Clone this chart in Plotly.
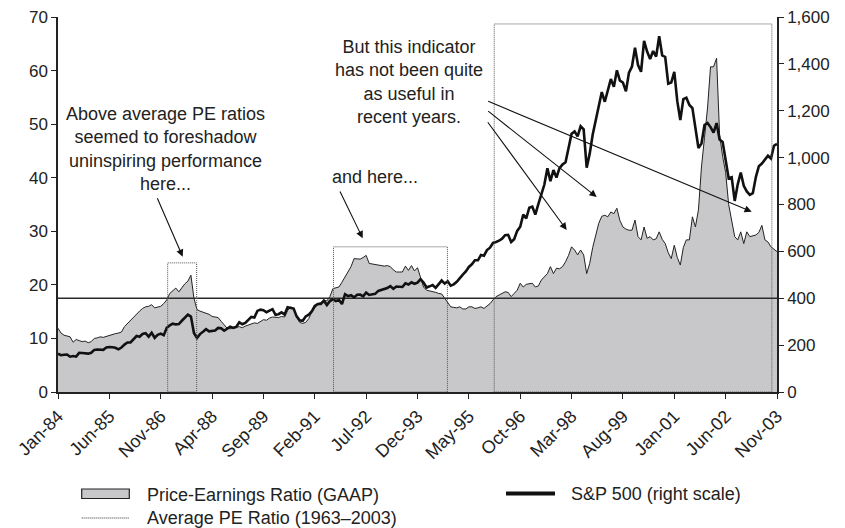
import plotly.graph_objects as go

# ---------------- data ----------------
tick_labels = ["Jan-84", "Jun-85", "Nov-86", "Apr-88", "Sep-89", "Feb-91", "Jul-92",
               "Dec-93", "May-95", "Oct-96", "Mar-98", "Aug-99", "Jan-01", "Jun-02", "Nov-03"]

# monthly S&P 500, Jan-1984 .. Nov-2003
sp500 = [
    163.4, 157.1, 159.2, 160.1, 150.6, 153.2, 150.7, 166.7, 166.1, 166.1, 163.6, 167.2,
    179.6, 181.2, 180.7, 179.8, 189.6, 191.9, 190.9, 188.6, 182.1, 189.8, 202.2, 211.3,
    211.8, 226.9, 238.9, 235.5, 247.4, 250.8, 236.1, 252.9, 231.3, 244.0, 249.2, 242.2,
    274.1, 284.2, 291.7, 288.4, 290.1, 304.0, 318.7, 329.8, 321.8, 251.8, 230.3, 247.1,
    257.1, 267.8, 258.9, 261.3, 262.2, 273.5, 272.0, 261.5, 271.9, 279.0, 273.7, 277.7,
    297.5, 288.9, 294.9, 309.6, 320.5, 318.0, 346.1, 351.5, 349.2, 340.4, 346.0, 353.4,
    329.1, 331.9, 339.9, 330.8, 361.2, 358.0, 356.2, 322.6, 306.1, 304.0, 322.2, 330.2,
    343.9, 367.1, 375.2, 375.3, 389.8, 371.2, 387.8, 395.4, 387.9, 392.5, 375.2, 417.1,
    408.8, 412.7, 403.7, 414.9, 415.4, 408.1, 424.2, 414.0, 417.8, 418.7, 431.4, 435.7,
    438.8, 443.4, 451.7, 440.2, 450.2, 450.5, 448.1, 463.6, 458.9, 467.8, 461.8, 466.5,
    481.6, 467.1, 445.8, 450.9, 456.5, 444.3, 458.3, 475.5, 462.7, 472.4, 453.7, 459.3,
    470.4, 487.4, 500.7, 514.7, 533.4, 544.8, 562.1, 561.9, 584.4, 581.5, 605.4, 615.9,
    636.0, 640.4, 645.5, 654.2, 669.1, 670.6, 640.0, 652.0, 687.3, 705.3, 757.0, 740.7,
    786.2, 790.8, 757.1, 801.3, 848.3, 885.1, 954.3, 899.5, 947.3, 914.6, 955.4, 970.4,
    980.3, 1049.3, 1101.8, 1111.8, 1090.8, 1133.8, 1120.7, 957.3, 1017.0, 1098.7, 1163.6, 1229.2,
    1279.6, 1238.3, 1286.4, 1335.2, 1301.8, 1372.7, 1328.7, 1320.4, 1282.7, 1362.9, 1388.9, 1469.3,
    1394.5, 1366.4, 1498.6, 1452.4, 1420.6, 1454.6, 1430.8, 1517.7, 1436.5, 1429.4, 1315.2, 1320.3,
    1366.0, 1239.9, 1160.3, 1249.5, 1255.8, 1224.4, 1211.2, 1133.6, 1040.9, 1059.8, 1139.5, 1148.1,
    1130.2, 1106.7, 1147.4, 1076.9, 1067.1, 989.8, 911.6, 916.1, 815.3, 885.8, 936.3, 879.8,
    855.7, 841.2, 848.2, 916.9, 963.6, 974.5, 990.3, 1008.0, 996.0, 1050.7, 1058.2,
]

# monthly price-earnings ratio (GAAP), Jan-1984 .. Nov-2003
pe_ratio = [
    11.9, 11.0, 10.6, 10.5, 10.3, 9.3, 9.8, 9.6, 9.4, 9.5, 9.2, 9.4,
    10.0, 10.1, 10.3, 10.2, 10.4, 10.5, 10.8, 10.9, 11.0, 11.2, 12.2, 12.8,
    13.4, 14.0, 14.7, 15.1, 15.6, 15.9, 16.0, 16.3, 15.7, 15.8, 16.0, 16.5,
    17.2, 18.4, 19.0, 19.4, 18.7, 19.5, 20.2, 20.7, 21.8, 17.5, 15.4, 15.1,
    14.9, 14.7, 14.5, 14.1, 14.0, 13.9, 13.2, 12.6, 11.9, 11.8, 12.0, 12.1,
    12.2, 12.0, 12.3, 12.5, 12.8, 12.9, 12.8, 13.2, 13.5, 13.4, 13.8, 14.0,
    14.0, 13.9, 14.1, 14.0, 15.2, 15.9, 15.5, 14.0, 13.0, 12.8, 13.0, 13.7,
    14.9, 15.8, 16.5, 16.7, 17.1, 17.0, 17.8, 19.3, 19.4, 19.6, 20.5, 21.5,
    22.6, 23.4, 24.9, 24.9, 24.8, 25.1, 25.5, 24.0, 23.9, 23.7, 23.7, 23.6,
    23.5, 23.6, 23.4, 22.8, 22.4, 22.4, 22.4, 23.5, 22.7, 23.6, 22.6, 23.2,
    21.2, 19.6, 19.0, 18.9, 18.7, 18.6, 18.4, 18.3, 17.5, 16.8, 15.9, 15.8,
    15.7, 15.9, 15.5, 15.5, 15.9, 15.9, 15.6, 15.7, 15.9, 15.6, 16.0, 16.5,
    17.2, 17.8, 18.1, 18.4, 18.7, 18.6, 17.8, 18.4, 19.0, 20.3, 19.6, 20.1,
    20.2, 20.3, 19.6, 19.8, 20.9, 21.5, 22.1, 23.4, 22.1, 23.1, 23.0, 23.4,
    24.3, 25.5, 27.1, 26.5, 25.6, 26.5, 25.6, 22.1, 24.0, 27.0, 29.5, 31.5,
    32.8, 33.0, 32.7, 33.6, 33.3, 34.3, 32.0, 30.8, 30.4, 30.2, 30.2, 32.1,
    29.0, 28.4, 30.8, 28.7, 29.0, 28.4, 28.6, 29.9, 28.5, 27.7, 26.0, 24.9,
    27.4, 25.1, 23.7, 27.0, 28.4, 28.4, 32.7, 30.8, 34.0, 42.0, 47.5, 53.0,
    60.7, 60.7, 62.3, 48.0, 44.0, 41.0, 35.0, 32.2, 29.0, 28.4, 29.9, 27.7,
    29.9, 29.0, 29.2, 29.3, 29.8, 31.1, 28.4, 28.0, 27.1, 26.6, 26.2,
]

avg_pe = 17.5          # average PE ratio 1963-2003
tick_step = 17         # months between labelled ticks

months = list(range(len(pe_ratio)))
tick_vals = [i * tick_step for i in range(len(tick_labels))]

# highlighted periods (month index start, end, PE height)
box_starts = [36.3, 91.2, 144.4]
box_ends = [45.9, 128.9, 236.3]
box_tops = [24.1, 27.1, 68.7]

# ---------------- figure ----------------
FONT = "Liberation Sans, Arial, sans-serif"
INK = "#222222"
FILL = "#c8c8ca"

L, R, T, B = 58, 68, 17, 136
W, H = 845, 528
PW, PH = W - L - R, H - T - B


def px(x):
    return (x - L) / PW


def py(y):
    return (H - B - y) / PH


fig = go.Figure()

fig.add_trace(go.Scatter(
    x=months, y=pe_ratio, mode="lines", fill="tozeroy",
    fillcolor=FILL, line=dict(color=INK, width=1),
    name="Price-Earnings Ratio (GAAP)",
))
fig.add_trace(go.Scatter(
    x=[months[0], months[-1]], y=[avg_pe, avg_pe], mode="lines",
    line=dict(color="#2a2a2a", width=1.5),
    name="Average PE Ratio (1963\u20132003)",
))
fig.add_trace(go.Scatter(
    x=months, y=sp500, mode="lines", yaxis="y2",
    line=dict(color="#111111", width=2.6),
    name="S&P 500 (right scale)",
))

for x0, x1, top in zip(box_starts, box_ends, box_tops):
    fig.add_shape(type="rect", xref="x", yref="y", x0=x0, x1=x1, y0=0, y1=top,
                  line=dict(color="#555555", width=1, dash="1px,1px"), layer="above")

ann_font = dict(family=FONT, size=18, color=INK)
texts = [
    ("Above average PE ratios<br>seemed to foreshadow<br>uninspiring performance<br>here...", 165, 149),
    ("and here...", 374.5, 176.7),
    ("But this indicator<br>has not been quite<br>as useful in<br>recent years.", 408.7, 82.2),
]
for txt, cx, cy in texts:
    fig.add_annotation(text=txt, x=px(cx), y=py(cy), xref="paper", yref="paper",
                       showarrow=False, font=ann_font, align="center",
                       xanchor="center", yanchor="middle")

arrows = [
    ((156.7, 196.7), (182.7, 256.7)),
    ((339.3, 190.0), (362.7, 238.3)),
    ((486.7, 120.7), (566.7, 230.0)),
    ((486.7, 110.0), (596.7, 197.0)),
    ((486.7, 100.7), (751.7, 211.7)),
]
for (tx, ty), (hx, hy) in arrows:
    fig.add_annotation(text="", x=px(hx), y=py(hy), xref="paper", yref="paper",
                       ax=tx - hx, ay=ty - hy, axref="pixel", ayref="pixel",
                       showarrow=True, arrowhead=2, arrowsize=1.3, arrowwidth=1.1,
                       arrowcolor="#111111", standoff=0, startstandoff=0)

# ---- legend drawn by hand (swatches + labels) ----
leg_font = dict(family=FONT, size=18, color=INK)
fig.add_shape(type="rect", xref="paper", yref="paper",
              x0=px(81.7), x1=px(129.3), y0=py(489), y1=py(498.5),
              fillcolor=FILL, line=dict(color=INK, width=1.2), layer="above")
fig.add_shape(type="line", xref="paper", yref="paper",
              x0=px(81.7), x1=px(129.3), y0=py(518), y1=py(518),
              line=dict(color="#333333", width=1, dash="1px,1px"), layer="above")
fig.add_shape(type="line", xref="paper", yref="paper",
              x0=px(506), x1=px(555), y0=py(493.5), y1=py(493.5),
              line=dict(color="#111111", width=4), layer="above")
legend_items = [
    ("Price-Earnings Ratio (GAAP)", 145, 495),
    ("Average PE Ratio (1963\u20132003)", 145, 518),
    ("S&P 500 (right scale)", 569, 494),
]
for txt, lx, ly in legend_items:
    fig.add_annotation(text=txt, x=px(lx), y=py(ly), xref="paper", yref="paper",
                       showarrow=False, font=leg_font, xanchor="left", yanchor="middle")

fig.update_layout(
    width=W, height=H,
    margin=dict(l=L, r=R, t=T, b=B, pad=0, autoexpand=False),
    paper_bgcolor="white", plot_bgcolor="white",
    font=dict(family=FONT, size=17, color=INK),
    showlegend=False,
    xaxis=dict(
        range=[0, months[-1]], tickvals=tick_vals, ticktext=tick_labels,
        tickangle=-45, ticks="outside", ticklen=5, tickcolor=INK,
        showline=True, linecolor=INK, linewidth=1.5, automargin=False,
        showgrid=False, zeroline=False, tickfont=dict(size=18),
    ),
    yaxis=dict(
        range=[0, 70], tickvals=list(range(0, 71, 10)), ticks="outside", ticklen=5,
        tickcolor=INK, showline=True, linecolor=INK, linewidth=1.5, automargin=False,
        showgrid=False, zeroline=False, tickfont=dict(size=17),
    ),
    yaxis2=dict(
        range=[0, 1600], tickvals=list(range(0, 1601, 200)), tickformat=",d",
        overlaying="y", side="right", ticks="outside", ticklen=5, automargin=False,
        tickcolor=INK, showline=True, linecolor=INK, linewidth=1.5,
        showgrid=False, zeroline=False, tickfont=dict(size=17),
    ),
)

fig.write_html(
    "out.html",
    config={"displayModeBar": False},
    post_script="document.body.style.margin='0px';document.body.style.overflow='hidden';",
)
